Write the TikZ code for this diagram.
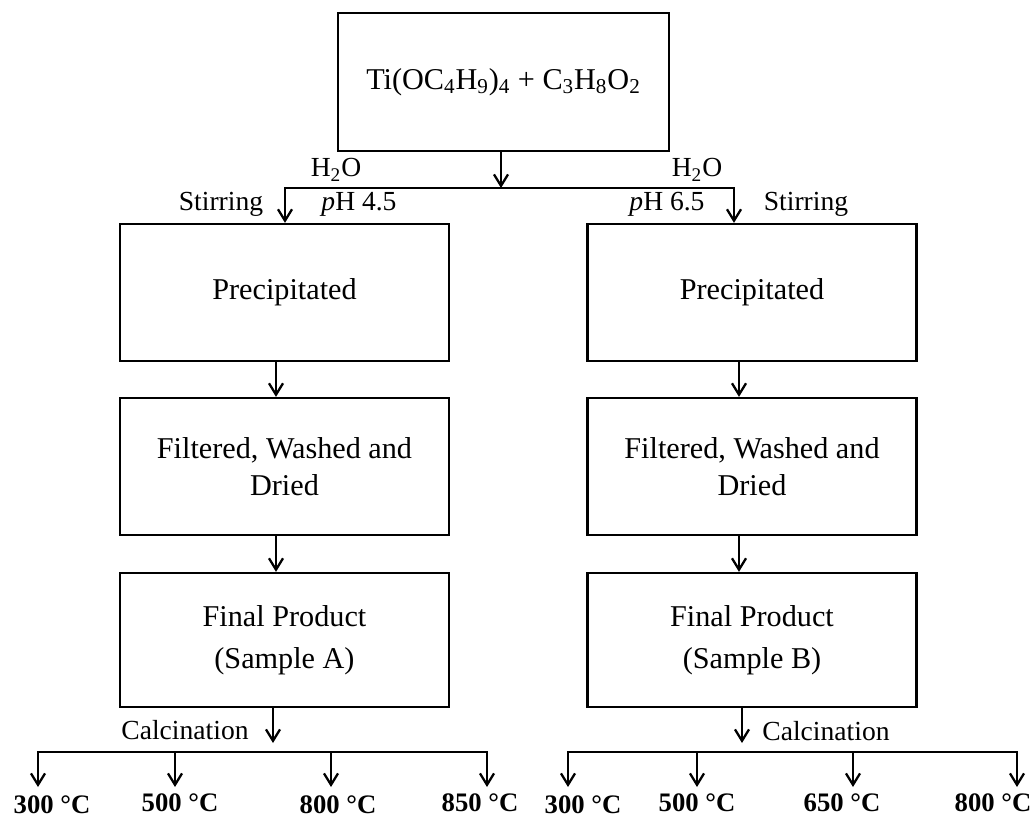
\documentclass[tikz,border=0pt]{standalone}
\usepackage{fontspec}
\setmainfont{Liberation Serif}
\usetikzlibrary{arrows.meta}
\newcommand{\flowbox}[4][]{\node[draw,line width=1.3pt,minimum width=6.58cm,minimum height=2.74cm,align=center,font=\fontsize{17.2}{21}\selectfont,#1] at (#2) (#3) {#4}}

\begin{document}
\begin{tikzpicture}[x=0.02cm,y=-0.02cm,line width=1.3pt,>={Straight Barb[length=6.5pt,width=8pt]},
	lbl/.style={font=\fontsize{15.7}{18.8}\selectfont,anchor=base},
	temp/.style={font=\bfseries\fontsize{15.2}{18}\selectfont,anchor=base}]
				\useasboundingbox (0,0) rectangle (1035,817);
				
				\flowbox[minimum width=6.62cm,minimum height=2.76cm]{503.5,82}{src}{Ti(OC\textsubscript{4}H\textsubscript{9})\textsubscript{4} + C\textsubscript{3}H\textsubscript{8}O\textsubscript{2}};
				
				\flowbox{284.5,292.5}{pptA}{Precipitated};
				\flowbox{284.5,466.5}{washA}{Filtered, Washed and\\Dried};
				\flowbox[minimum height=2.68cm]{284.5,640}{prodA}{Final Product\\[3pt](Sample A)};
				
				\flowbox{752,292.5}{pptB}{Precipitated};
				\flowbox{752,466.5}{washB}{Filtered, Washed and\\Dried};
				\flowbox[minimum height=2.68cm]{752,640}{prodB}{Final Product\\[3pt](Sample B)};
				
				\coordinate (joint) at (501,188);
				\coordinate (splitA) at (285,188);
				\coordinate (splitB) at (734,188);
				\draw [->](src.south -| joint) -- (joint);
				\draw [<->](pptA.north -| splitA) -- (splitA) -- (splitB) -- (pptB.north -| splitB);
				
				\node[lbl] at (336,177) (waterA) {H\textsubscript{2}O};
				\node[lbl] at (359,211) (phA) {\textit{p}H 4.5};
				\node[lbl] at (221,211) (stirA) {Stirring};
				\node[lbl] at (697,177) (waterB) {H\textsubscript{2}O};
				\node[lbl] at (667,211) (phB) {\textit{p}H 6.5};
				\node[lbl] at (806,211) (stirB) {Stirring};
				
				\draw [->]([xshift=-0.17cm]pptA.south) -- ([xshift=-0.17cm]washA.north);
				\draw [->]([xshift=-0.17cm]washA.south) -- ([xshift=-0.17cm]prodA.north);
				\draw [->]([xshift=-0.26cm]pptB.south) -- ([xshift=-0.26cm]washB.north);
				\draw [->]([xshift=-0.26cm]washB.south) -- ([xshift=-0.26cm]prodB.north);
				
				% calcination, sample A
				\coordinate (calcA) at (273,743);
				\coordinate (barA) at (273,752);
				\draw [->](prodA.south -| calcA) -- (calcA);
				\node[lbl] at (185,739) (calcTxtA) {Calcination};
				\coordinate (hA1) at (38,787);
				\coordinate (hA2) at (175,787);
				\coordinate (hA3) at (331,787);
				\coordinate (hA4) at (487,787);
				\draw [<->](hA1) -- (hA1 |- barA) -- (hA4 |- barA) -- (hA4);
				\draw [->](hA2 |- barA) -- (hA2);
				\draw [->](hA3 |- barA) -- (hA3);
				\node[temp] at (52,813) (tA1) {300 °C};
				\node[temp] at (180,811) (tA2) {500 °C};
				\node[temp] at (338,813) (tA3) {800 °C};
				\node[temp] at (480,811) (tA4) {850 °C};
				
				% calcination, sample B
				\coordinate (calcB) at (742,743);
				\coordinate (barB) at (742,752);
				\draw [->](prodB.south -| calcB) -- (calcB);
				\node[lbl] at (826,740) (calcTxtB) {Calcination};
				\coordinate (hB1) at (568,787);
				\coordinate (hB2) at (697,787);
				\coordinate (hB3) at (853,787);
				\coordinate (hB4) at (1017,787);
				\draw [<->](hB1) -- (hB1 |- barB) -- (hB4 |- barB) -- (hB4);
				\draw [->](hB2 |- barB) -- (hB2);
				\draw [->](hB3 |- barB) -- (hB3);
				\node[temp] at (583,813) (tB1) {300 °C};
				\node[temp] at (697,811) (tB2) {500 °C};
				\node[temp] at (842,811) (tB3) {650 °C};
				\node[temp] at (993,811) (tB4) {800 °C};
				
\end{tikzpicture}
\end{document}
